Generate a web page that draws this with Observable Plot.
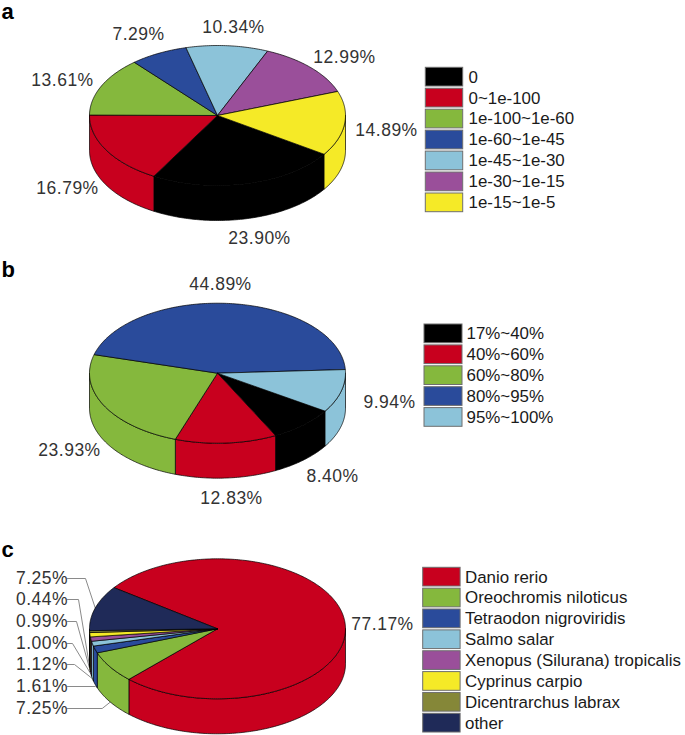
<!DOCTYPE html>
<html>
<head>
<meta charset="utf-8">
<script src="https://cdn.jsdelivr.net/npm/d3@7"></script>
<script src="https://cdn.jsdelivr.net/npm/@observablehq/plot@0.6"></script>
<style>
html,body{margin:0;padding:0;background:#fff}
svg{display:block}
g[font-size="17.5"]{letter-spacing:.5px}
</style>
</head>
<body>
<div id="chart"></div>
<script>
// ---------- data ----------
const catsA = ["0","0~1e-100","1e-100~1e-60","1e-60~1e-45","1e-45~1e-30","1e-30~1e-15","1e-15~1e-5"];
const valuesA = [23.90,16.79,13.61,7.29,10.34,12.99,14.89];
const textA = ["23.90%","16.79%","13.61%","7.29%","10.34%","12.99%","14.89%"];

const catsB = ["17%~40%","40%~60%","60%~80%","80%~95%","95%~100%"];
const valuesB = [8.40,12.83,23.93,44.89,9.94];
const textB = ["8.40%","12.83%","23.93%","44.89%","9.94%"];

const catsC = ["Danio rerio","Oreochromis niloticus","Tetraodon nigroviridis","Salmo salar","Xenopus (Silurana) tropicalis","Cyprinus carpio","Dicentrarchus labrax","other"];
// the wedge of "other" is drawn larger than its printed 7.25% in the source figure
const valuesC = [77.17,7.25,1.61,1.12,1.00,0.99,0.44,10.42];
const textC = ["77.17%","7.25%","1.61%","1.12%","1.00%","0.99%","0.44%","7.25%"];

const palette = ["#000000","#c8001e","#85b83d","#2a4b9b","#8cc3d9","#9a4f9a","#f5ea27"];
const paletteB = ["#000000","#c8001e","#85b83d","#2a4b9b","#8cc3d9"];
const paletteC = ["#c8001e","#85b83d","#2a4b9b","#8cc3d9","#9a4f9a","#f5ea27","#858738","#1f2a58"];

// ---------- layout ----------
const W = 685, H = 735, rx = 128, ry = 70, depth = 35;
const FONT = "Liberation Sans, Arial, sans-serif";
const pies = [
  {cats:catsA, values:valuesA, text:textA, cx:217, cy:115,   start:123.6,
   lx:[259,67,62,138,233,344,386], ly:[238,188,80,34,27,57,130],
   legendX:425.3, legendY:67.3, step:20.95, swatchW:37.4, textX:468, letter:"a", letterY:11},
  {cats:catsB, values:valuesB, text:textB, cx:217, cy:372.7, start:122.8,
   lx:[332,231,69,220,389], ly:[475.7,498,450,284,401.5],
   legendX:424, legendY:324, step:20.9, swatchW:38, textX:466, letter:"b", letterY:269},
  {cats:catsC, values:valuesC, text:textC, cx:217, cy:628.3, start:306,
   lx:[382,41.5,41.5,41.5,41.5,41.5,41.5,41.5], ly:[624,708,686,664,643,621,599,578],
   legendX:422.7, legendY:567.3, step:20.86, swatchW:37.4, textX:464.5, letter:"c", letterY:549}
];
const swatchH = 18.7;
const elbowC = [null,101.7,null,74,72,76,78,85];   // leader bends in panel c, by slice

// ---------- geometry from the values ----------
const polys = [], labels = [], swatches = [], legendText = [], leaders = [], letters = [];
const rim = (p, a, drop = 0) => ({x: p.cx + rx * Math.sin(a), y: p.cy - ry * Math.cos(a) + drop});

pies.forEach((p, pi) => {
  const s = p.start * Math.PI / 180;
  const arcs = d3.pie().sort(null).startAngle(s).endAngle(s + 2 * Math.PI)(p.values);
  const walls = [], tops = [];
  arcs.forEach((arc, i) => {
    const cat = p.cats[i];
    const path = (a0, a1) => {
      const n = Math.max(2, Math.ceil((a1 - a0) / 0.015));
      return d3.range(n + 1).map(k => a0 + (a1 - a0) * k / n);
    };
    // top face
    const top = [{x:p.cx, y:p.cy}, ...path(arc.startAngle, arc.endAngle).map(a => rim(p, a)), {x:p.cx, y:p.cy}];
    tops.push(...top.map(d => ({...d, id:`t${pi}-${i}`, cat})));
    // wall: only the front half of the disc (90deg..270deg, also one turn later)
    for (const turn of [0, 2 * Math.PI]) {
      const a0 = Math.max(arc.startAngle, Math.PI / 2 + turn);
      const a1 = Math.min(arc.endAngle, 1.5 * Math.PI + turn);
      if (a1 > a0) {
        const pts = path(a0, a1);
        const wall = [...pts.map(a => rim(p, a)), ...pts.slice().reverse().map(a => rim(p, a, depth))];
        wall.push(wall[0]);
        walls.push(...wall.map(d => ({...d, id:`w${pi}-${i}-${turn}`, cat})));
      }
    }
    labels.push({x:p.lx[i], y:p.ly[i], t:p.text[i]});
    const top0 = p.legendY + p.step * i;
    swatches.push({x1:p.legendX, x2:p.legendX + p.swatchW, y1:top0, y2:top0 + swatchH, cat});
    legendText.push({x:p.textX, y:top0 + swatchH / 2, t:cat});
    // leader lines of panel c
    if (pi === 2 && i > 0) {
      const mid = (arc.startAngle + arc.endAngle) / 2;
      const end = rim(p, mid, Math.cos(mid) < 0 ? depth : 0);
      const y = p.ly[i], id = `l${i}`;
      const pts = [{x:67, y}];
      if (elbowC[i] != null) pts.push({x:elbowC[i], y});
      pts.push(i === 2 ? {x:end.x, y} : end);
      leaders.push(...pts.map(d => ({...d, id})));
    }
  });
  polys.push(...walls, ...tops);
  letters.push({x:1, y:p.letterY, t:p.letter});
});

const chart = Plot.plot({
  width: W, height: H, margin: 0,
  style: {background:"#fff", fontFamily: FONT},
  x: {domain:[0,W], range:[0,W], axis:null},
  y: {domain:[0,H], range:[0,H], axis:null},
  color: {
    domain: [...catsA, ...catsB, ...catsC],
    range: [...palette, ...paletteB, ...paletteC]
  },
  marks: [
    Plot.line(leaders, {x:"x", y:"y", z:"id", stroke:"#8a8a8a", strokeWidth:1, curve:"linear"}),
    Plot.line(polys, {x:"x", y:"y", z:"id", fill:"cat", stroke:"#000", strokeWidth:0.7, curve:"linear"}),
    Plot.rect(swatches, {x1:"x1", x2:"x2", y1:"y1", y2:"y2", fill:"cat", stroke:"#6e6e6e", strokeWidth:1}),
    Plot.text(legendText, {x:"x", y:"y", text:"t", textAnchor:"start", fontSize:16.9, fill:"#1a1a1a", fontFamily:FONT}),
    Plot.text(labels, {x:"x", y:"y", text:"t", textAnchor:"middle", fontSize:17.5, fill:"#333", fontFamily:FONT}),
    Plot.text(letters, {x:"x", y:"y", text:"t", textAnchor:"start", fontSize:22, fontWeight:"bold", fill:"#000", fontFamily:FONT})
  ]
});
document.getElementById("chart").appendChild(chart);
</script>
</body>
</html>
